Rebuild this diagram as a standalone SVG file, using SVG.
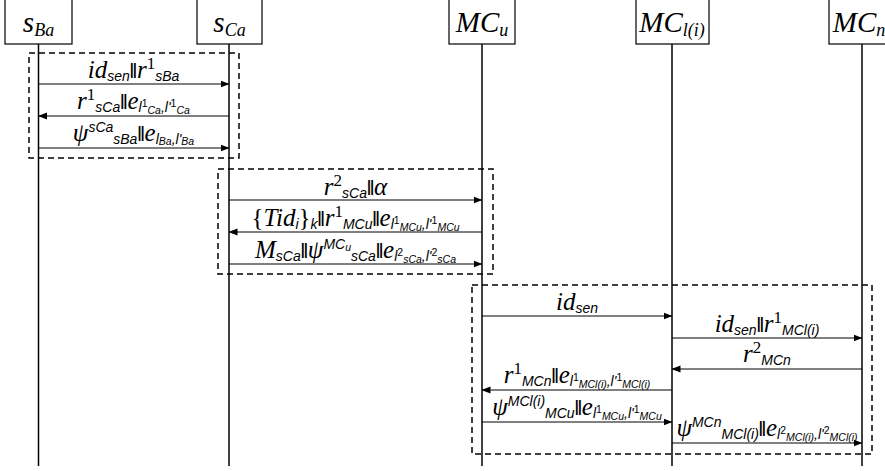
<svg xmlns="http://www.w3.org/2000/svg" width="885" height="471" viewBox="0 0 885 471">
<defs>
<marker id="ah" markerWidth="9" markerHeight="8" refX="8.5" refY="4" orient="auto" markerUnits="userSpaceOnUse">
<path d="M0,0.5 L9,4 L0,7.5 Z" fill="#000"/>
</marker>
<style>
.box{fill:#fff;stroke:#000;stroke-width:1.2}
.life{stroke:#000;stroke-width:1.5}
.dash{fill:none;stroke:#000;stroke-width:1.5;stroke-dasharray:6,4}
.msg{stroke:#000;stroke-width:1;marker-end:url(#ah)}
text{font-family:"Liberation Serif","DejaVu Serif",serif;font-style:italic;font-size:25px;fill:#000;text-anchor:middle}
.h{font-size:29px}
.hs{font-size:18px}
.sb{font-family:"Liberation Sans",Arial,sans-serif;font-size:14px}
.tn{font-family:"Liberation Sans",Arial,sans-serif;font-size:10.5px}
.sp{font-style:normal;font-size:17px}
.tp{font-style:normal;font-size:10.5px;font-family:"Liberation Sans",Arial,sans-serif}
.bar{font-style:normal;font-weight:bold;font-size:22px}
</style>
</defs>

<g id="lifelines">
<line class="life" x1="38.5" y1="44" x2="38.5" y2="466"/>
<line class="life" x1="229" y1="44" x2="229" y2="466"/>
<line class="life" x1="482" y1="44" x2="482" y2="466"/>
<line class="life" x1="672" y1="44" x2="672" y2="466"/>
<line class="life" x1="862" y1="44" x2="862" y2="466"/>
</g>

<g id="node-sBa"><rect class="box" x="5" y="-1" width="67" height="45"/><text class="h" x="38.5" y="32">s<tspan class="hs" dy="4">Ba</tspan></text></g>
<g id="node-sCa"><rect class="box" x="197" y="-1" width="65" height="45"/><text class="h" x="229.5" y="32">s<tspan class="hs" dy="4">Ca</tspan></text></g>
<g id="node-MCu"><rect class="box" x="449" y="-1" width="66" height="45"/><text class="h" x="482" y="32">MC<tspan class="hs" dy="4">u</tspan></text></g>
<g id="node-MCl"><rect class="box" x="636" y="-1" width="73" height="45"/><text class="h" x="672" y="32">MC<tspan class="hs" dy="4">l(i)</tspan></text></g>
<g id="node-MCn"><rect class="box" x="829" y="-1" width="70" height="45"/><text class="h" x="859" y="32">MC<tspan class="hs" dy="4">n</tspan></text></g>

<g id="phases">
<rect class="dash" x="29" y="53" width="210" height="105"/>
<rect class="dash" x="218" y="169" width="275" height="105"/>
<rect class="dash" x="472" y="285" width="400" height="169"/>
</g>

<g id="connectors">
<line class="msg" x1="38.5" y1="84" x2="229" y2="84"/>
<line class="msg" x1="229" y1="116" x2="38.5" y2="116"/>
<line class="msg" x1="38.5" y1="148" x2="229" y2="148"/>
<line class="msg" x1="229" y1="200" x2="482" y2="200"/>
<line class="msg" x1="482" y1="232" x2="229" y2="232"/>
<line class="msg" x1="229" y1="264" x2="482" y2="264"/>
<line class="msg" x1="482" y1="316" x2="672" y2="316"/>
<line class="msg" x1="672" y1="338" x2="862" y2="338"/>
<line class="msg" x1="862" y1="369" x2="672" y2="369"/>
<line class="msg" x1="672" y1="390" x2="482" y2="390"/>
<line class="msg" x1="482" y1="422" x2="672" y2="422"/>
<line class="msg" x1="672" y1="443" x2="862" y2="443"/>
</g>

<g id="labels">
<text x="133.5" y="78">id<tspan class="sb" dy="3">sen</tspan><tspan class="bar" dy="-3">‖</tspan>r<tspan class="sp" dy="-9">1</tspan><tspan class="sb" dy="12">sBa</tspan></text>
<text x="133.5" y="109">r<tspan class="sp" dy="-9">1</tspan><tspan class="sb" dy="12">sCa</tspan><tspan class="bar" dy="-3">‖</tspan>e<tspan class="sb" dy="3">l</tspan><tspan class="tp" dy="-5">1</tspan><tspan class="tn" dy="7">Ca</tspan><tspan class="sb" dy="-2">,l'</tspan><tspan class="tp" dy="-5">1</tspan><tspan class="tn" dy="7">Ca</tspan></text>
<text x="133.5" y="141">ψ<tspan class="sb" dy="-9">sCa</tspan><tspan class="sb" dy="12">sBa</tspan><tspan class="bar" dy="-3">‖</tspan>e<tspan class="sb" dy="3">l</tspan><tspan class="tn" dy="1">Ba</tspan><tspan class="sb" dy="-1">,l'</tspan><tspan class="tn" dy="1">Ba</tspan></text>

<text x="355.5" y="195">r<tspan class="sp" dy="-9">2</tspan><tspan class="sb" dy="12">sCa</tspan><tspan class="bar" dy="-3">‖</tspan>α</text>
<text x="355.5" y="226"><tspan font-style="normal">{</tspan>Tid<tspan class="sb" dy="3">i</tspan><tspan font-style="normal" dy="-3">}</tspan><tspan class="sb" dy="3">k</tspan><tspan class="bar" dy="-3">‖</tspan>r<tspan class="sp" dy="-9">1</tspan><tspan class="sb" dy="12">MCu</tspan><tspan class="bar" dy="-3">‖</tspan>e<tspan class="sb" dy="3">l</tspan><tspan class="tp" dy="-5">1</tspan><tspan class="tn" dy="7">MCu</tspan><tspan class="sb" dy="-2">,l'</tspan><tspan class="tp" dy="-5">1</tspan><tspan class="tn" dy="7">MCu</tspan></text>
<text x="355.5" y="258">M<tspan class="sb" dy="3">sCa</tspan><tspan class="bar" dy="-3">‖</tspan>ψ<tspan class="sb" dy="-9">MC</tspan><tspan class="tn" dy="2">u</tspan><tspan class="sb" dy="10">sCa</tspan><tspan class="bar" dy="-3">‖</tspan>e<tspan class="sb" dy="3">l</tspan><tspan class="tp" dy="-5">2</tspan><tspan class="tn" dy="7">sCa</tspan><tspan class="sb" dy="-2">,l'</tspan><tspan class="tp" dy="-5">2</tspan><tspan class="tn" dy="7">sCa</tspan></text>

<text x="577" y="310">id<tspan class="sb" dy="3">sen</tspan></text>
<text x="767" y="332">id<tspan class="sb" dy="3">sen</tspan><tspan class="bar" dy="-3">‖</tspan>r<tspan class="sp" dy="-9">1</tspan><tspan class="sb" dy="12">MCl(i)</tspan></text>
<text x="767" y="362">r<tspan class="sp" dy="-9">2</tspan><tspan class="sb" dy="12">MCn</tspan></text>
<text x="577" y="383">r<tspan class="sp" dy="-9">1</tspan><tspan class="sb" dy="12">MCn</tspan><tspan class="bar" dy="-3">‖</tspan>e<tspan class="sb" dy="3">l</tspan><tspan class="tp" dy="-5">1</tspan><tspan class="tn" dy="7">MCl(i)</tspan><tspan class="sb" dy="-2">,l'</tspan><tspan class="tp" dy="-5">1</tspan><tspan class="tn" dy="7">MCl(i)</tspan></text>
<text x="577" y="415">ψ<tspan class="sb" dy="-9">MCl(i)</tspan><tspan class="sb" dy="12">MCu</tspan><tspan class="bar" dy="-3">‖</tspan>e<tspan class="sb" dy="3">l</tspan><tspan class="tp" dy="-5">1</tspan><tspan class="tn" dy="7">MCu</tspan><tspan class="sb" dy="-2">,l'</tspan><tspan class="tp" dy="-5">1</tspan><tspan class="tn" dy="7">MCu</tspan></text>
<text x="767" y="436">ψ<tspan class="sb" dy="-9">MCn</tspan><tspan class="sb" dy="12">MCl(i)</tspan><tspan class="bar" dy="-3">‖</tspan>e<tspan class="sb" dy="3">l</tspan><tspan class="tp" dy="-5">2</tspan><tspan class="tn" dy="7">MCl(i)</tspan><tspan class="sb" dy="-2">,l'</tspan><tspan class="tp" dy="-5">2</tspan><tspan class="tn" dy="7">MCl(i)</tspan></text>
</g>
</svg>
